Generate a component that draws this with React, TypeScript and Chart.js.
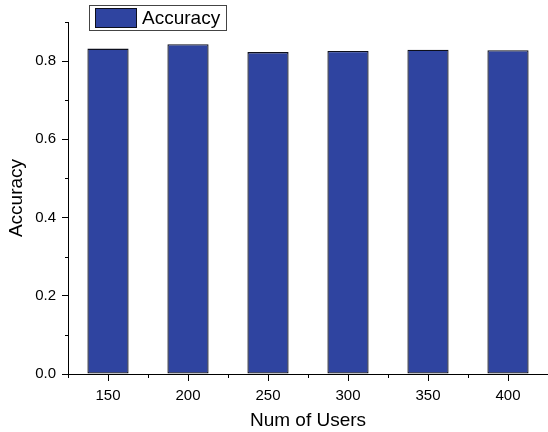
import React, { useEffect, useRef } from "react";
import { Chart, registerables } from "chart.js";

Chart.register(...registerables);

const userCounts = ["150", "200", "250", "300", "350", "400"];
const accuracyValues = [0.832, 0.843, 0.823, 0.826, 0.829, 0.828];
const yMajorTicks = [0, 0.2, 0.4, 0.6, 0.8];
const yMinorTicks = [0.1, 0.3, 0.5, 0.7, 0.9];
const seriesLabel = "Accuracy";
const xTitle = "Num of Users";
const yTitle = "Accuracy";

const FONT = "'Liberation Sans', Arial, Helvetica, sans-serif";
const BAR_FILL = "#2f44a0";
const BAR_EDGE = "#0d0f1c";

// Minor ticks on both axes plus a boxed legend in the upper left.
const decorations = {
  id: "decorations",
  afterDraw(chart: any) {
    const ctx = chart.ctx;
    const x = chart.scales.x;
    const y = chart.scales.y;
    const area = chart.chartArea;
    ctx.save();
    ctx.strokeStyle = "#000";
    ctx.lineWidth = 1;
    ctx.beginPath();
    for (const v of yMinorTicks) {
      const py = Math.round(y.getPixelForValue(v)) + 0.5;
      ctx.moveTo(area.left - 3, py);
      ctx.lineTo(area.left, py);
    }
    for (let i = 0; i <= userCounts.length; i++) {
      const px = Math.round(x.getPixelForValue(i - 0.5)) + 0.5;
      ctx.moveTo(px, area.bottom);
      ctx.lineTo(px, area.bottom + 4);
    }
    ctx.stroke();

    // legend
    const ds = chart.data.datasets[0];
    ctx.fillStyle = "#fff";
    ctx.fillRect(89.5, 5.5, 137, 25);
    ctx.strokeStyle = "#444";
    ctx.strokeRect(89.5, 5.5, 137, 25);
    ctx.fillStyle = ds.backgroundColor;
    ctx.fillRect(95.5, 8.5, 41, 19);
    ctx.strokeStyle = BAR_EDGE;
    ctx.strokeRect(95.5, 8.5, 41, 19);
    ctx.fillStyle = "#000";
    ctx.font = `19px ${FONT}`;
    ctx.textBaseline = "middle";
    ctx.textAlign = "left";
    ctx.fillText(ds.label, 142, 19);
    ctx.restore();
  },
};

export default function App() {
  const canvasRef = useRef<HTMLCanvasElement | null>(null);

  useEffect(() => {
    if (!canvasRef.current) return;
    const chart = new Chart(canvasRef.current, {
      type: "bar",
      data: {
        labels: userCounts,
        datasets: [
          {
            label: seriesLabel,
            data: accuracyValues,
            backgroundColor: BAR_FILL,
            borderColor: BAR_EDGE,
            borderWidth: 1.3,
            borderSkipped: false,
            categoryPercentage: 1,
            barPercentage: 0.515,
          },
        ],
      },
      options: {
        animation: false,
        responsive: false,
        maintainAspectRatio: false,
        layout: { padding: { top: 22, left: 0, right: 0, bottom: 0 } },
        plugins: {
          legend: { display: false },
          tooltip: { enabled: false },
        },
        scales: {
          x: {
            type: "category",
            offset: true,
            afterFit(scale: any) {
              scale.height = 58;
            },
            grid: {
              display: true,
              drawOnChartArea: false,
              drawTicks: true,
              tickLength: 7,
              color: "#000",
              offset: false,
            },
            border: { display: true, color: "#000", width: 1 },
            ticks: {
              color: "#000",
              font: { family: FONT, size: 15 },
              padding: 6,
              maxRotation: 0,
            },
            title: {
              display: true,
              text: xTitle,
              color: "#000",
              font: { family: FONT, size: 19 },
              padding: { top: 0, bottom: 0 },
            },
          },
          y: {
            type: "linear",
            min: 0,
            max: 0.9,
            afterFit(scale: any) {
              scale.width = 68;
            },
            afterBuildTicks(scale: any) {
              scale.ticks = yMajorTicks.map((v) => ({ value: v }));
            },
            grid: {
              display: true,
              drawOnChartArea: false,
              drawTicks: true,
              tickLength: 6,
              color: "#000",
            },
            border: { display: true, color: "#000", width: 1 },
            ticks: {
              color: "#000",
              font: { family: FONT, size: 15 },
              padding: 6,
              includeBounds: false,
              callback: (v: any) => Number(v).toFixed(1),
            },
            title: {
              display: true,
              text: yTitle,
              color: "#000",
              font: { family: FONT, size: 19 },
              padding: { top: 5, bottom: 0 },
            },
          },
        },
      },
      plugins: [decorations],
    });
    return () => chart.destroy();
  }, []);

  return (
    <div style={{ position: "fixed", left: 0, top: 0, width: 548, height: 432, background: "#fff" }}>
      <canvas ref={canvasRef} width={548} height={432} style={{ display: "block" }} />
    </div>
  );
}
